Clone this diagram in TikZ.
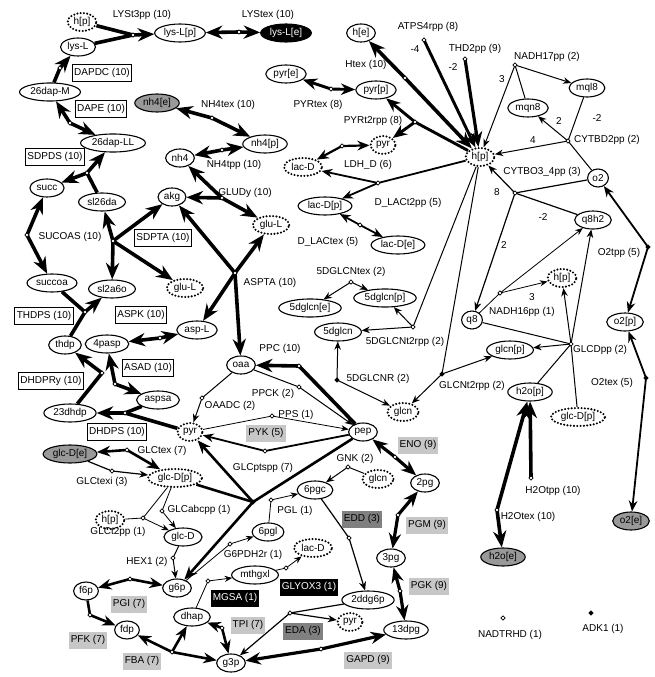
\documentclass[tikz,border=0pt]{standalone}
\usepackage{fontspec}
\setmainfont{Liberation Sans}
\usetikzlibrary{arrows.meta,shapes.geometric}
\begin{document}
\begin{tikzpicture}[x=1pt,y=-1pt,
  font=\fontsize{10}{12}\selectfont,
  >={Stealth[length=5pt 3.2,width'=0pt 0.8]},
  met/.style={ellipse,draw,line width=1.1pt,inner xsep=1.8pt,inner ysep=0pt,minimum height=18pt,fill=white},
  cur/.style={met,line width=2.3pt,dash pattern=on 0pt off 3.3pt,line cap=round},
  ext/.style={met,fill=black!40},
  extk/.style={met,fill=black,text=white},
  rbox/.style={draw,line width=1.1pt,inner sep=2pt,minimum height=17pt,fill=white},
  gbox/.style={fill=black!22,inner sep=2pt,minimum height=17pt},
  dbox/.style={fill=black!50,inner sep=2pt,minimum height=17pt},
  kbox/.style={fill=black,text=white,inner sep=2pt,minimum height=17pt},
  jn/.style={diamond,draw,fill=white,line width=0.6pt,inner sep=0pt,minimum size=4.5pt},
  jk/.style={jn,fill=black},
  f10/.style={line width=3.6pt,line join=round},
  f9/.style={line width=3.2pt,line join=round},
  f8/.style={line width=2.9pt,line join=round},
  f7/.style={line width=2.6pt,line join=round},
  f6/.style={line width=2.2pt},
  f5/.style={line width=1.8pt},
  f3/.style={line width=1.2pt},
  f2/.style={line width=1pt},
  f1/.style={line width=0.8pt}]
\useasboundingbox (0,0) rectangle (655,677);

% metabolites
\node[cur] (hpA) at (82,22) {h[p]};
\node[met] (lysL) at (78,47) {lys-L};
\node[met] (lysLp) at (180,33) {lys-L[p]};
\node[extk] (lysLe) at (286,33) {lys-L[e]};
\node[met] (dapM) at (50,92) {26dap-M};
\node[ext] (nh4e) at (157,103) {nh4[e]};
\node[met] (dapLL) at (113,143) {26dap-LL};
\node[met] (nh4) at (180,158) {nh4};
\node[met] (nh4p) at (265,144) {nh4[p]};
\node[met] (succ) at (47,188) {succ};
\node[met] (sl26da) at (102,202) {sl26da};
\node[met] (akg) at (172,197) {akg};
\node[cur] (gluA) at (271,225) {glu-L};
\node[met] (succoa) at (52,283) {succoa};
\node[met] (sl2a6o) at (112,289) {sl2a6o};
\node[cur] (gluB) at (185,288) {glu-L};
\node[met] (aspL) at (197,330) {asp-L};
\node[met] (thdp) at (65,345) {thdp};
\node[met] (fourpasp) at (107,344) {4pasp};
\node[met] (aspsa) at (158,400) {aspsa};
\node[met] (dhdp) at (70,413) {23dhdp};
\node[cur] (pyrB) at (190,432) {pyr};
\node[ext] (glcDe) at (70,454) {glc-D[e]};
\node[cur] (glcDpA) at (175,478) {glc-D[p]};
\node[cur] (hpD) at (110,520) {h[p]};
\node[met] (glcD) at (183,537) {glc-D};
\node[met] (f6p) at (86,591) {f6p};
\node[met] (g6p) at (177,588) {g6p};
\node[met] (fdp) at (127,630) {fdp};
\node[met] (dhap) at (192,617) {dhap};
\node[met] (g3p) at (231,663) {g3p};
\node[met] (mthgxl) at (255,575) {mthgxl};
\node[cur] (lacB) at (313,548) {lac-D};
\node[met] (sixpgl) at (268,532) {6pgl};
\node[met] (sixpgc) at (315,490) {6pgc};
\node[cur] (glcnB) at (378,479) {glcn};
\node[met] (twopg) at (425,483) {2pg};
\node[met] (threepg) at (391,558) {3pg};
\node[met] (ddg6p) at (368,600) {2ddg6p};
\node[cur] (pyrC) at (350,622) {pyr};
\node[met] (dpg) at (406,630) {13dpg};
\node[met] (oaa) at (241,365) {oaa};
\node[met] (pep) at (363,432) {pep};
\node[cur] (glcnA) at (403,412) {glcn};
\node[met] (he) at (361,33) {h[e]};
\node[met] (pyre) at (286,74) {pyr[e]};
\node[met] (pyrp) at (376,90) {pyr[p]};
\node[cur] (pyrA) at (383,145) {pyr};
\node[cur] (lacA) at (303,167) {lac-D};
\node[met] (lacDp) at (325,206) {lac-D[p]};
\node[met] (lacDe) at (398,245) {lac-D[e]};
\node[met] (dglcnp) at (385,298) {5dglcn[p]};
\node[met] (dglcne) at (310,308) {5dglcn[e]};
\node[met] (dglcn) at (338,332) {5dglcn};
\node[cur] (hpB) at (480,157) {h[p]};
\node[met] (mql8) at (587,88) {mql8};
\node[met] (mqn8) at (528,108) {mqn8};
\node[met] (otwo) at (598,178) {o2};
\node[met] (qeighth) at (593,220) {q8h2};
\node[cur] (hpC) at (562,278) {h[p]};
\node[met] (qeight) at (472,320) {q8};
\node[met] (otwop) at (625,322) {o2[p]};
\node[met] (glcnp) at (510,350) {glcn[p]};
\node[met] (h2op) at (530,392) {h2o[p]};
\node[cur] (glcDpB) at (578,417) {glc-D[p]};
\node[ext] (h2oe) at (503,557) {h2o[e]};
\node[ext] (otwoe) at (631,521) {o2[e]};

% reaction points
\coordinate (jLYSt3pp) at (133,35);
\coordinate (jLYStex) at (239,32);
\coordinate (jDAPDC) at (60,68);
\coordinate (jDAPE) at (70,123);
\coordinate (jSDPDS) at (87,173);
\coordinate (jSUCOAS) at (27,235);
\coordinate (jSDPTA) at (113,241);
\coordinate (jTHDPS) at (85,312);
\coordinate (jASPK) at (160,338);
\coordinate (jASAD) at (115,384);
\coordinate (jDHDPRy) at (102,373);
\coordinate (jDHDPS) at (125,413);
\coordinate (jNH4tex) at (212,118);
\coordinate (jNH4tpp) at (222,150);
\coordinate (jGLUDy) at (222,198);
\coordinate (jASPTA) at (235,273);
\coordinate (jHtex) at (405,78);
\coordinate (jPYRtex) at (331,89);
\coordinate (jPYRt2rpp) at (415,122);
\coordinate (jLDH) at (342,146);
\coordinate (jDLACt2pp) at (378,183);
\coordinate (jDLACtex) at (360,225);
\coordinate (j5DGLCNtex) at (351,282);
\coordinate (j5DGLCNt2rpp) at (413,327);
\coordinate (j5DGLCNR) at (337,380);
\coordinate (jATPS) at (424,40);
\coordinate (jTHD2) at (465,59);
\coordinate (jNADH17) at (515,65);
\coordinate (jCYTBD2) at (568,141);
\coordinate (jCYTBO3) at (515,193);
\coordinate (jNADH16) at (500,293);
\coordinate (jGLCD) at (571,344);
\coordinate (jGLCNt2) at (442,374);
\coordinate (jO2tpp) at (648,247);
\coordinate (jO2tex) at (646,378);
\coordinate (jH2Otpp) at (531,478);
\coordinate (jH2Otex) at (497,510);
\coordinate (jNADTRHD) at (503,618);
\coordinate (jADK1) at (591,613);
\coordinate (jPPC) at (299,366);
\coordinate (jPPCK) at (299,387);
\coordinate (jOAADC) at (202,398);
\coordinate (jPPS) at (272,416);
\coordinate (jPYK) at (265,451);
\coordinate (jGLCpts) at (253,502);
\coordinate (jGLCtex) at (127,450);
\coordinate (jGLCtexi) at (112,471);
\coordinate (jGLCabc) at (162,511);
\coordinate (jGLCt2) at (143,518);
\coordinate (jHEX1) at (173,558);
\coordinate (jPGI) at (130,579);
\coordinate (jPFK) at (90,615);
\coordinate (jFBA) at (172,652);
\coordinate (jTPI) at (222,628);
\coordinate (jMGSA) at (208,581);
\coordinate (jGLYOX3) at (286,568);
\coordinate (jG6PDH) at (230,544);
\coordinate (jPGL) at (271,500);
\coordinate (jGNK) at (348,467);
\coordinate (jEDD) at (349,538);
\coordinate (jEDA) at (290,613);
\coordinate (jGAPD) at (321,649);
\coordinate (jPGK) at (400,591);
\coordinate (jPGM) at (398,515);
\coordinate (jENO) at (395,457);

% lysine
\draw[f10] (hpA) -- (jLYSt3pp);
\draw[f10] (lysL) -- (jLYSt3pp);
\draw[f10,->] (jLYSt3pp) -- (lysLp);
\draw[f10,<->] (lysLp) -- (jLYStex) -- (lysLe);
\draw[f10,->] (dapM) -- (jDAPDC) -- (lysL);
\draw[f10,<->] (dapM) -- (jDAPE) -- (dapLL);
\draw[f10] (sl26da) -- (jSDPDS);
\draw[f10,->] (jSDPDS) -- (succ);
\draw[f10,->] (jSDPDS) -- (dapLL);
\draw[f10,<->] (succ) -- (jSUCOAS) -- (succoa);
\draw[f10,<->] (sl26da) -- (jSDPTA) -- (sl2a6o);
\draw[f10,->] (jSDPTA) -- (akg);
\draw[f10,->] (jSDPTA) -- (gluB);
\draw[f10] (succoa) -- (jTHDPS);
\draw[f10] (thdp) -- (jTHDPS);
\draw[f10,->] (jTHDPS) -- (sl2a6o);
\draw[f10,<->] (fourpasp) -- (jASPK) -- (aspL);
\draw[f10,<->] (fourpasp) -- (jASAD) -- (aspsa);
\draw[f10,->] (dhdp) -- (jDHDPRy) -- (thdp);
\draw[f10] (aspsa) -- (jDHDPS);
\draw[f10] (pyrB) -- (jDHDPS);
\draw[f10,->] (jDHDPS) -- (dhdp);

% nitrogen
\draw[f10,<->] (nh4e) -- (jNH4tex) -- (nh4p);
\draw[f10,<->] (nh4p) -- (jNH4tpp) -- (nh4);
\draw[f10,<->] (akg) -- (jGLUDy) -- (gluA);
\draw[f10,->] (jGLUDy) -- (nh4);
\draw[f10,<->] (akg) -- (jASPTA) -- (oaa);
\draw[f10,<->] (aspL) -- (jASPTA) -- (gluA);

% periplasm
\draw[f10,<->] (he) -- (jHtex) -- (hpB);
\draw[f8,<->] (pyre) -- (jPYRtex) -- (pyrp);
\draw[f8,<->] (pyrp) -- (jPYRt2rpp) -- (pyrA);
\draw[f8] (hpB) -- (jPYRt2rpp);
\draw[f6,<->] (lacA) -- (jLDH) -- (pyrA);
\draw[f5] (hpB) -- (jDLACt2pp);
\draw[f5,->] (jDLACt2pp) -- (lacA);
\draw[f5,->] (jDLACt2pp) -- (lacDp);
\draw[f5,<->] (lacDp) -- (jDLACtex) -- (lacDe);
\draw[f2,<->] (dglcne) -- (j5DGLCNtex) -- (dglcnp);
\draw[f2] (hpB) -- (j5DGLCNt2rpp);
\draw[f2,->] (j5DGLCNt2rpp) -- (dglcnp);
\draw[f2,->] (j5DGLCNt2rpp) -- (dglcn);
\draw[f2,<->] (dglcn) -- (j5DGLCNR) -- (glcnA);

% respiration
\draw[f8,->] (jATPS) -- (hpB);
\draw[f9,->] (jTHD2) -- (hpB);
\draw[f2] (mqn8) -- (jNADH17);
\draw[f2,->] (jNADH17) -- (mql8);
\draw[f2,->] (jNADH17) -- (hpB);
\draw[f2] (mql8) -- (jCYTBD2);
\draw[f2] (otwo) -- (jCYTBD2);
\draw[f2,->] (jCYTBD2) -- (mqn8);
\draw[f2,->] (jCYTBD2) -- (hpB);
\draw[f3] (otwo) -- (jCYTBO3);
\draw[f3] (qeighth) -- (jCYTBO3);
\draw[f3,->] (jCYTBO3) -- (hpB);
\draw[f3,->] (jCYTBO3) -- (qeight);
\draw[f1] (qeight) -- (jNADH16);
\draw[f1,->] (jNADH16) -- (qeighth);
\draw[f1,->] (jNADH16) -- (hpC);
\draw[f2] (qeight) -- (jGLCD);
\draw[f2] (glcDpB) -- (jGLCD);
\draw[f2] (h2op) -- (jGLCD);
\draw[f2,->] (jGLCD) -- (glcnp);
\draw[f2,->] (jGLCD) -- (hpC);
\draw[f2,->] (jGLCD) -- (qeighth);
\draw[f2] (hpB) -- (jGLCNt2);
\draw[f2,->] (jGLCNt2) -- (glcnp);
\draw[f2,->] (jGLCNt2) -- (glcnA);
\draw[f5,<->] (otwo) -- (jO2tpp) -- (otwop);
\draw[f5,<->] (otwop) -- (jO2tex) -- (otwoe);
\draw[f10,<-] (h2op) -- (jH2Otpp);
\draw[f10,<->] (h2op) -- (jH2Otex) -- (h2oe);

% central carbon
\draw[f10,->] (pep) -- (jPPC) -- (oaa);
\draw[f2,->] (oaa) -- (jPPCK) -- (pep);
\draw[f2,->] (oaa) -- (jOAADC) -- (pyrB);
\draw[f1,->] (pyrB) -- (jPPS) -- (pep);
\draw[f5,->] (pep) -- (jPYK) -- (pyrB);
\draw[f7] (glcDpA) -- (jGLCpts);
\draw[f7] (pep) -- (jGLCpts);
\draw[f7,->] (jGLCpts) -- (pyrB);
\draw[f7,->] (jGLCpts) -- (g6p);
\draw[f7,<->] (glcDe) -- (jGLCtex) -- (glcDpA);
\draw[f3,->] (glcDe) -- (jGLCtexi) -- (glcDpA);
\draw[f1,->] (glcDpA) -- (jGLCabc) -- (glcD);
\draw[f1] (hpD) -- (jGLCt2);
\draw[f1] (glcDpA) -- (jGLCt2);
\draw[f1,->] (jGLCt2) -- (glcD);
\draw[f2,->] (glcD) -- (jHEX1) -- (g6p);
\draw[f7,<->] (g6p) -- (jPGI) -- (f6p);
\draw[f7,->] (f6p) -- (jPFK) -- (fdp);
\draw[f7,<->] (fdp) -- (jFBA) -- (dhap);
\draw[f7,->] (jFBA) -- (g3p);
\draw[f7,<->] (dhap) -- (jTPI) -- (g3p);
\draw[f1,->] (dhap) -- (jMGSA) -- (mthgxl);
\draw[f1,->] (mthgxl) -- (jGLYOX3) -- (lacB);
\draw[f1,->] (g6p) -- (jG6PDH) -- (sixpgl);
\draw[f1,->] (sixpgl) -- (jPGL) -- (sixpgc);
\draw[f2,->] (glcnB) -- (jGNK) -- (sixpgc);
\draw[f3,->] (sixpgc) -- (jEDD) -- (ddg6p);
\draw[f3] (ddg6p) -- (jEDA);
\draw[f3,->] (jEDA) -- (pyrC);
\draw[f3,->] (jEDA) -- (g3p);
\draw[f9,<->] (g3p) -- (jGAPD) -- (dpg);
\draw[f9,<->] (dpg) -- (jPGK) -- (threepg);
\draw[f9,<->] (threepg) -- (jPGM) -- (twopg);
\draw[f9,<->] (twopg) -- (jENO) -- (pep);

% reaction point marks
\foreach \j in {LYSt3pp,LYStex,DAPDC,DAPE,SDPDS,SUCOAS,SDPTA,THDPS,ASPK,ASAD,DHDPRy,DHDPS,
  NH4tex,NH4tpp,GLUDy,ASPTA,Htex,PYRtex,PYRt2rpp,LDH,DLACt2pp,DLACtex,5DGLCNtex,5DGLCNt2rpp,
  ATPS,THD2,NADH17,CYTBD2,CYTBO3,NADH16,GLCD,H2Otpp,H2Otex,NADTRHD,PPC,PPCK,OAADC,PPS,PYK,
  GLCtex,GLCtexi,GLCabc,GLCt2,HEX1,PGI,PFK,FBA,TPI,MGSA,GLYOX3,G6PDH,PGL,GNK,EDD,EDA,GAPD,PGK,PGM,ENO}
  \node[jn] (d\j) at (j\j) {};
\foreach \j in {5DGLCNR,GLCNt2,O2tpp,O2tex,ADK1,GLCpts}
  \node[jk] (d\j) at (j\j) {};

% reaction names
\node (tLYSt3pp) at (142,15) {LYSt3pp (10)};
\node (tLYStex) at (268,15) {LYStex (10)};
\node (tNH4tex) at (228,105) {NH4tex (10)};
\node (tNH4tpp) at (234,165) {NH4tpp (10)};
\node (tGLUDy) at (245,193) {GLUDy (10)};
\node (tSUCOAS) at (70,237) {SUCOAS (10)};
\node (tASPTA) at (270,283) {ASPTA (10)};
\node (tHtex) at (366,65) {Htex (10)};
\node (tPYRtex) at (318,105) {PYRtex (8)};
\node (tPYRt2rpp) at (373,121) {PYRt2rpp (8)};
\node (tLDH) at (368,165) {LDH\_D (6)};
\node (tDLACt2pp) at (408,203) {D\_LACt2pp (5)};
\node (tDLACtex) at (328,242) {D\_LACtex (5)};
\node (t5DGLCNtex) at (351,272) {5DGLCNtex (2)};
\node (t5DGLCNt2rpp) at (405,342) {5DGLCNt2rpp (2)};
\node (t5DGLCNR) at (378,379) {5DGLCNR (2)};
\node (tATPS) at (428,27) {ATPS4rpp (8)};
\node (tTHD2) at (475,49) {THD2pp (9)};
\node (tNADH17) at (547,57) {NADH17pp (2)};
\node (tCYTBD2) at (607,140) {CYTBD2pp (2)};
\node (tCYTBO3) at (542,172) {CYTBO3\_4pp (3)};
\node (tO2tpp) at (619,253) {O2tpp (5)};
\node (tNADH16) at (522,312) {NADH16pp (1)};
\node (tGLCD) at (600,350) {GLCDpp (2)};
\node (tGLCNt2) at (472,386) {GLCNt2rpp (2)};
\node (tO2tex) at (612,383) {O2tex (5)};
\node (tH2Otpp) at (553,491) {H2Otpp (10)};
\node (tH2Otex) at (528,517) {H2Otex (10)};
\node (tNADTRHD) at (510,635) {NADTRHD (1)};
\node (tADK1) at (603,629) {ADK1 (1)};
\node (tPPC) at (280,349) {PPC (10)};
\node (tPPCK) at (273,394) {PPCK (2)};
\node (tOAADC) at (230,406) {OAADC (2)};
\node (tPPS) at (296,415) {PPS (1)};
\node (tGLCpts) at (263,468) {GLCptspp (7)};
\node (tGNK) at (355,459) {GNK (2)};
\node (tGLCtex) at (162,451) {GLCtex (7)};
\node (tGLCtexi) at (102,482) {GLCtexi (3)};
\node (tGLCabc) at (199,510) {GLCabcpp (1)};
\node (tGLCt2) at (118,532) {GLCt2pp (1)};
\node (tHEX1) at (147,562) {HEX1 (2)};
\node (tPGL) at (295,511) {PGL (1)};
\node (tG6PDH) at (253,555) {G6PDH2r (1)};

% stoichiometries
\node (sATPS) at (415,49) {-4};
\node (sTHD2) at (453,67) {-2};
\node (sNADH17) at (502,79) {3};
\node (sCYTBDa) at (559,121) {2};
\node (sCYTBDb) at (597,118) {-2};
\node (sCYTBDc) at (533,140) {4};
\node (sCYTBOa) at (497,192) {8};
\node (sCYTBOb) at (543,217) {-2};
\node (sCYTBOc) at (504,245) {2};
\node (sNADH16) at (532,297) {3};

% boxed reaction names
\node[rbox] (bDAPDC) at (102,73) {DAPDC (10)};
\node[rbox] (bDAPE) at (101,109) {DAPE (10)};
\node[rbox] (bSDPDS) at (55,157) {SDPDS (10)};
\node[rbox] (bSDPTA) at (163,238) {SDPTA (10)};
\node[rbox] (bTHDPS) at (44,316) {THDPS (10)};
\node[rbox] (bASPK) at (141,315) {ASPK (10)};
\node[rbox] (bASAD) at (148,368) {ASAD (10)};
\node[rbox] (bDHDPRy) at (51,381) {DHDPRy (10)};
\node[rbox] (bDHDPS) at (117,432) {DHDPS (10)};
\node[gbox] (bPYK) at (266,433) {PYK (5)};
\node[gbox] (bENO) at (418,445) {ENO (9)};
\node[gbox] (bPGI) at (129,604) {PGI (7)};
\node[gbox] (bPFK) at (88,640) {PFK (7)};
\node[gbox] (bFBA) at (142,661) {FBA (7)};
\node[gbox] (bTPI) at (248,625) {TPI (7)};
\node[gbox] (bPGM) at (427,525) {PGM (9)};
\node[gbox] (bPGK) at (429,586) {PGK (9)};
\node[gbox] (bGAPD) at (368,660) {GAPD (9)};
\node[dbox] (bEDD) at (362,519) {EDD (3)};
\node[dbox] (bEDA) at (303,631) {EDA (3)};
\node[kbox] (bMGSA) at (235,598) {MGSA (1)};
\node[kbox] (bGLYOX3) at (309,587) {GLYOX3 (1)};
\end{tikzpicture}
\end{document}
